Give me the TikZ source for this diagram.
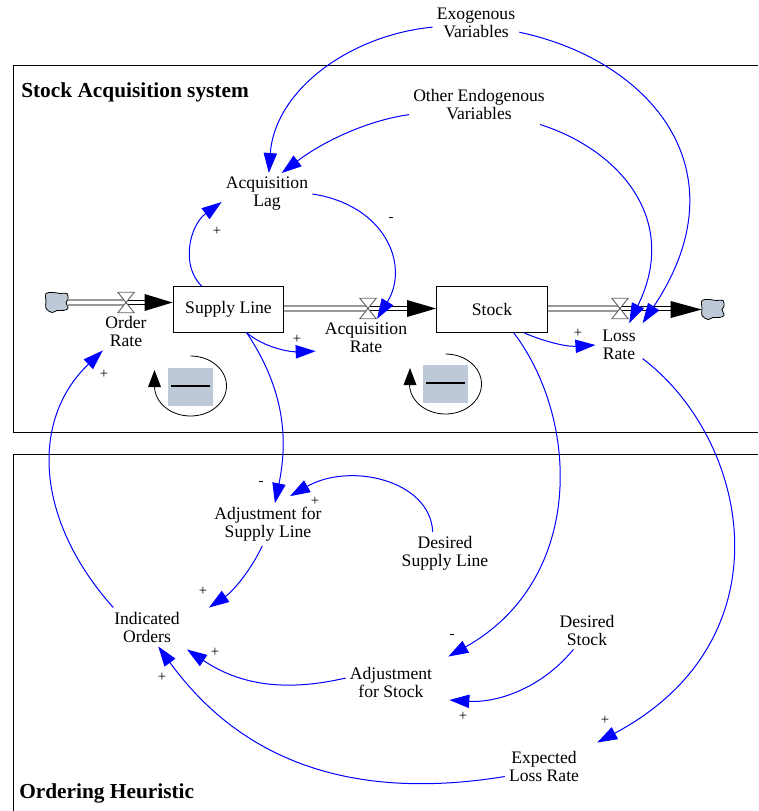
\documentclass[tikz,border=0pt]{standalone}
\usepackage{fontspec}
\setmainfont{Liberation Serif}
\usepackage{tikz}
\usetikzlibrary{arrows.meta, positioning}

\begin{document}
\begin{tikzpicture}[x=0.75pt, y=-0.75pt]
  \definecolor{slate}{RGB}{189,201,214}
  \tikzstyle{auxvar} = [align=center, inner sep=3pt, font=\fontsize{13.2}{13.5}\selectfont]
  \tikzstyle{stockbox} = [rectangle, draw, line width=0.9pt, minimum width=83pt, minimum height=34pt, font=\fontsize{13.2}{13.5}\selectfont]
  \tikzstyle{frametitle} = [inner sep=0pt, anchor=west, font=\fontsize{16}{18}\selectfont\bfseries]
  \tikzstyle{polarity} = [inner sep=0pt, font=\fontsize{11}{12}\selectfont]
  \tikzstyle{sourcecloud} = [rectangle, inner sep=0pt, minimum width=16.5pt, minimum height=14pt]
  \tikzstyle{loopsign} = [rectangle, fill=slate, minimum width=34pt, minimum height=29pt, inner sep=0pt]
  \tikzstyle{valvebox} = [inner sep=0pt, minimum width=12pt, minimum height=15pt]
  \tikzstyle{connector} = [draw, blue, line width=0.75pt, -{Triangle[length=15pt, width=10pt]}]
  \tikzstyle{pipeline} = [draw=black!40, double=white, line width=1.5pt, double distance=1.6pt]
  \tikzstyle{flowline} = [draw=black, double=white, line width=1.1pt, double distance=2pt]
  \tikzstyle{headtip} = [draw=none, fill=black]
  \tikzstyle{loopline} = [draw, line width=0.6pt]

  \useasboundingbox (0,0) rectangle (758,811);
  \draw [line width=0.7pt] (758,65) -- (13,65) -- (13,432) -- (758,432);
  \draw [line width=0.7pt] (758,454) -- (13,454) -- (13,811);
  \node [frametitle] (systemTitle) at (21,92) {Stock Acquisition system};
  \node [frametitle] (heuristicTitle) at (19,793) {Ordering Heuristic};

  \node [stockbox] (supplyLine) at (228.5,309.5) {Supply Line};
  \node [stockbox] (stock) at (492,309.5) {Stock};
  \node [sourcecloud] (cloudIn) at (57,302.5) {};
  \node [sourcecloud] (cloudOut) at (713,309.5) {};
  \node [valvebox] (valveOrder) at (126,302.5) {};
  \node [valvebox] (valveAcq) at (368,308.5) {};
  \node [valvebox] (valveLoss) at (620,308.5) {};

  \foreach \c in {cloudIn, cloudOut} {
    \draw [fill=slate, line width=0.6pt, shift={(\c.center)}] plot [smooth cycle, tension=0.6] coordinates {(-11,-9) (-4,-10) (3,-9) (10,-9) (11,-3) (9,0) (11,6) (6,8) (0,8) (-5,10) (-11,6) (-11,-1)};
  }
  \path [pipeline] (cloudIn.east) -- (valveOrder.center);
  \path [pipeline] (supplyLine.east |- valveAcq) -- (valveAcq.center);
  \path [pipeline] (stock.east |- valveLoss) -- (valveLoss.center);
  \path [flowline] (valveOrder.center) -- ++(20,0);
  \path [flowline] (valveAcq.center) -- ++(41,0);
  \path [flowline] (valveLoss.center) -- ++(53,0);
  \fill [headtip] (supplyLine.west |- valveOrder) -- ++(-28,-8.5) -- ++(0,17) -- cycle;
  \fill [headtip] (stock.west |- valveAcq) -- ++(-29,-8.5) -- ++(0,17) -- cycle;
  \fill [headtip] (cloudOut.west) -- ++(-31,-8.5) -- ++(0,17) -- cycle;
  \foreach \v in {valveOrder, valveAcq, valveLoss} {
    \draw [fill=white, draw=black!60, line width=0.7pt] (\v.north west) -- (\v.north east) -- (\v.south west) -- (\v.south east) -- cycle;
  }

  \node [auxvar] (exogenous) at (476,23) {Exogenous\\Variables};
  \node [auxvar] (otherEndo) at (479,105) {Other Endogenous\\Variables};
  \node [auxvar] (acqLag) at (267,194) {Acquisition\\Lag};
  \node [auxvar] (orderRate) at (126,331) {Order\\Rate};
  \node [auxvar] (acqRate) at (366,338) {Acquisition\\Rate};
  \node [auxvar, inner sep=5pt] (lossRate) at (619,345) {Loss\\Rate};
  \node [auxvar] (adjSupply) at (268,524.5) {Adjustment for\\Supply Line};
  \node [auxvar] (desSupply) at (445,553) {Desired\\Supply Line};
  \node [auxvar] (indOrders) at (147,627) {Indicated\\Orders};
  \node [auxvar] (adjStock) at (391,682) {Adjustment\\for Stock};
  \node [auxvar] (desStock) at (587,630) {Desired\\Stock};
  \node [auxvar] (expLoss) at (544,766) {Expected\\Loss Rate};

  \path [connector] (exogenous) .. controls (350,35) and (275,90) .. (acqLag.85);
  \path [connector] (exogenous) .. controls (650,60) and (745,170) .. (lossRate.north east);
  \path [connector] (otherEndo) .. controls (370,120) and (325,140) .. (acqLag.55);
  \path [connector] (otherEndo) .. controls (620,150) and (680,220) .. (lossRate.65);
  \path [connector] (supplyLine.139) .. controls (180,265) and (190,225) .. (acqLag.190);
  \path [connector] (acqLag.east) .. controls (385,205) and (410,265) .. (acqRate.60);
  \path [connector] (supplyLine.-52) .. controls (265,348) and (290,352) .. ([shift={(-5,-6)}]acqRate.south west);
  \path [connector] (supplyLine.-52) .. controls (285,390) and (288,440) .. (adjSupply.72);
  \path [connector] (stock.-36) .. controls (540,340) and (565,347) .. (lossRate.west);
  \path [connector] (stock.-47) .. controls (580,420) and (585,580) .. ([shift={(12,-6)}]adjStock.north east);
  \path [connector] (lossRate.-30) .. controls (750,440) and (790,640) .. ([shift={(14,-4)}]expLoss.north east);
  \path [connector] (desSupply.120) .. controls (430,480) and (350,462) .. ([shift={(22,-7)}]adjSupply.north);
  \path [connector] (adjSupply.-105) .. controls (250,572) and (232,592) .. ([shift={(25,0)}]indOrders.north east);
  \path [connector] (indOrders.150) .. controls (35,520) and (30,420) .. (orderRate.220);
  \path [connector] (adjStock.175) .. controls (285,692) and (240,685) .. ([shift={(3,3)}]indOrders.south east);
  \path [connector] (desStock.-125) .. controls (540,690) and (495,703) .. ([shift={(13,18)}]adjStock.east);
  \path [connector] (expLoss.-165) .. controls (330,805) and (230,745) .. (indOrders.-60);

  \node [polarity] (plusLag) at (217,231) {+};
  \node [polarity] (minusRate) at (391,219) {-};
  \node [polarity] (plusAcq) at (297,339) {+};
  \node [polarity] (plusLoss) at (578,333) {+};
  \node [polarity] (plusOrder) at (104,374) {+};
  \node [polarity] (minusAdj) at (261,483) {-};
  \node [polarity] (plusAdj) at (315,501) {+};
  \node [polarity] (plusInd) at (203,591) {+};
  \node [polarity] (plusStockInd) at (215,652) {+};
  \node [polarity] (plusExpInd) at (162,677) {+};
  \node [polarity] (minusStock) at (452,636) {-};
  \node [polarity] (plusDes) at (463,716) {+};
  \node [polarity] (plusExp) at (605,720) {+};

  \node [loopsign] (balanceSupply) at (190.5,387) {\rule[2pt]{29pt}{1.4pt}};
  \node [loopsign] (balanceStock) at (445.5,384) {\rule[2pt]{29pt}{1.4pt}};
  \draw [loopline] (190.5,356) arc [start angle=90, end angle=-180, x radius=27pt, y radius=22.5pt] -- (154.5,380);
  \draw [loopline] (445.5,354) arc [start angle=90, end angle=-180, x radius=27pt, y radius=22.5pt] -- (409.5,380);
  \fill [headtip] (154.5,370) -- ++(-6.5,17) -- ++(13,0) -- cycle;
  \fill [headtip] (410,368) -- ++(-6.5,17) -- ++(13,0) -- cycle;
\end{tikzpicture}
\end{document}
